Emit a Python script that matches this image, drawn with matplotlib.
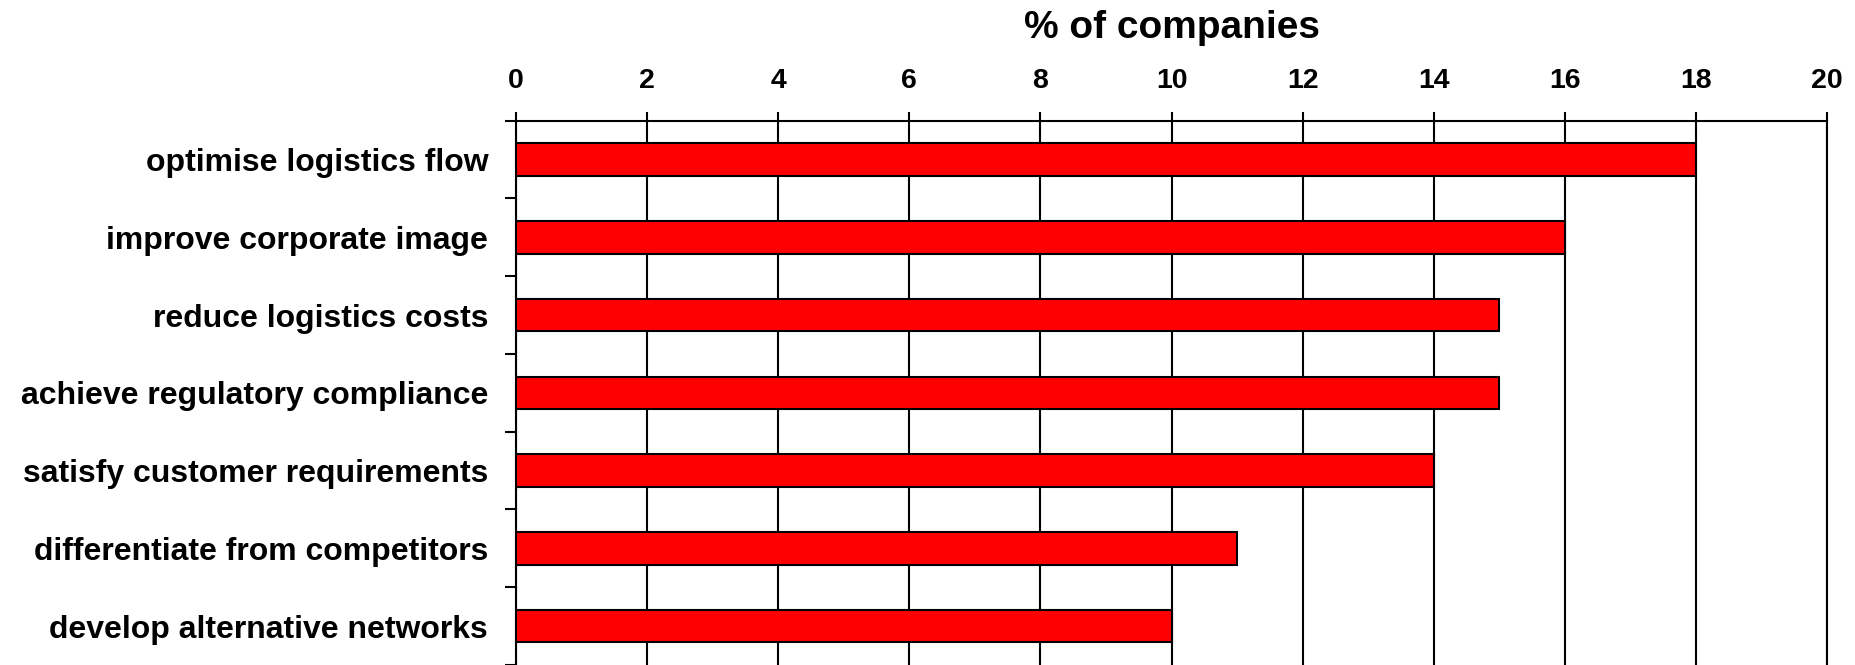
import numpy as np
import matplotlib
matplotlib.use('Agg')
import matplotlib.pyplot as plt
from matplotlib.ticker import FixedLocator, NullFormatter

plt.rcParams['font.family'] = ['Liberation Sans', 'DejaVu Sans']
plt.rcParams['font.weight'] = 'bold'

categories = ['optimise logistics flow', 'improve corporate image', 'reduce logistics costs',
              'achieve regulatory compliance', 'satisfy customer requirements',
              'differentiate from competitors', 'develop alternative networks']
values = [18, 16, 15, 15, 14, 11, 10]
x_ticks = [0, 2, 4, 6, 8, 10, 12, 14, 16, 18, 20]

fig = plt.figure(figsize=(18.56, 6.65), dpi=100)
ax = fig.add_axes([516 / 1856, 0.0, (1827 - 516) / 1856, 1 - 120.7 / 665])

pos = np.arange(len(categories))
ax.barh(pos, values, height=0.42, color='#ff0000', edgecolor='black', linewidth=1.5, zorder=3)

ax.set_xlim(0, 20)
ax.set_ylim(len(categories) - 0.5, -0.5)

# x axis on top
ax.xaxis.set_ticks_position('top')
ax.xaxis.set_label_position('top')
ax.set_xticks(x_ticks)
ax.set_xticklabels([str(t) for t in x_ticks], fontsize=20.5, fontweight='bold')
ax.tick_params(axis='x', direction='out', length=6.5, width=1.5, pad=13)
ax.set_xlabel('% of companies', fontsize=28, fontweight='bold', labelpad=21)
ax.grid(axis='x', color='black', linewidth=1.5, zorder=1)

# y ticks at category boundaries, labels at centres
ax.yaxis.set_major_locator(FixedLocator(np.arange(-0.5, len(categories), 1.0)))
ax.yaxis.set_major_formatter(NullFormatter())
ax.yaxis.set_minor_locator(FixedLocator(pos))
ax.set_yticklabels(categories, minor=True, fontsize=23, fontweight='bold')
ax.tick_params(axis='y', which='major', direction='out', length=8, width=1.5)
ax.tick_params(axis='y', which='minor', length=0, pad=20)

for s in ['left', 'top', 'right']:
    ax.spines[s].set_linewidth(1.5)
    ax.spines[s].set_color('black')
ax.spines['bottom'].set_visible(False)

fig.savefig('out.png', dpi=100)
